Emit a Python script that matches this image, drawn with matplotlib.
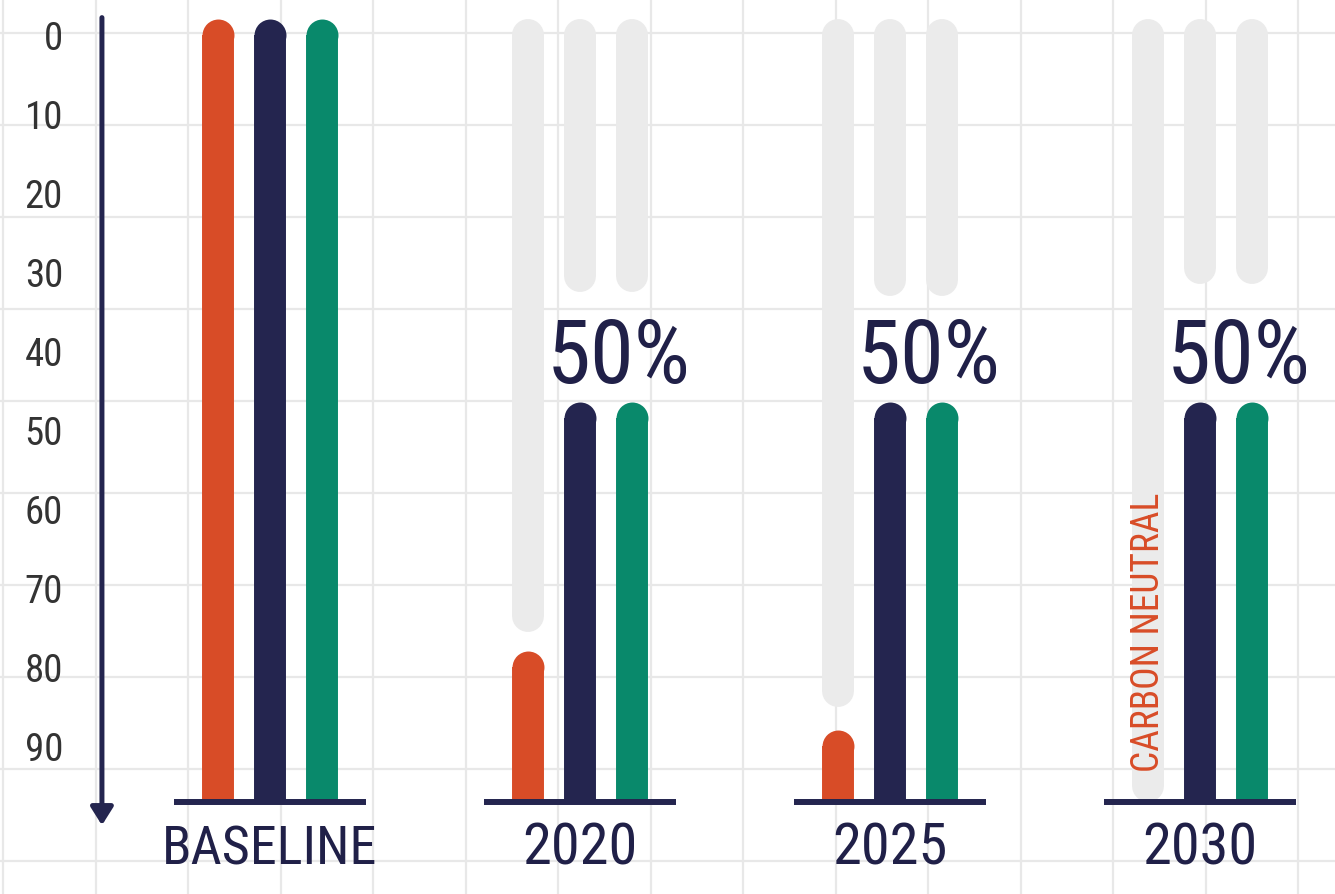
import numpy as np
import matplotlib
matplotlib.use("Agg")
import matplotlib.pyplot as plt

# chart values (percent reduction, 0 = top of the scale)
groups = ["BASELINE", "2020", "2025", "2030"]
orange_vals = [0, 80, 90, np.nan]        # nan -> nothing left (carbon neutral)
navy_vals = [0, 48.5, 48.5, 48.5]
green_vals = [0, 48.5, 48.5, 48.5]
ghost_orange = [np.nan, 73.5, 83, 95]    # faded "removed" part of the bar
ghost_navy = [np.nan, 30.5, 31, 29.5]
ghost_green = [np.nan, 30.5, 31, 29.5]
pct_labels = ["", "50%", "50%", "50%"]
note_labels = ["", "", "", "CARBON NEUTRAL"]
yticks = list(range(0, 100, 10))
base_level = 97

# colours
orange = "#d84c27"
navy = "#24254f"
green = "#09896b"
ghost = "#ebebeb"
text_navy = "#202048"

plt.rcParams['font.family'] = ['Roboto Condensed', 'DejaVu Sans']
plt.rcParams['font.stretch'] = 'condensed'

fig = plt.figure(figsize=(13.35, 8.94), dpi=100)
fig.patch.set_facecolor("white")

# background grid (pixel space)
bg = fig.add_axes([0, 0, 1, 1], zorder=0)
bg.set_xlim(0, 1335)
bg.set_ylim(894, 0)
bg.set_xticks(np.arange(3, 1335, 92.5))
bg.set_yticks(np.arange(33, 894, 92))
bg.grid(True, color="#e8e8e8", linewidth=1.6)
bg.tick_params(length=0, labelbottom=False, labelleft=False)
for s in bg.spines.values():
    s.set_visible(False)

# main chart axes
left = 70 / 1335
ax = fig.add_axes([left, 0, 1 - left, 1], zorder=1)
ax.patch.set_alpha(0)
ax.set_xlim(-0.645, 3.435)
ax.set_ylim(108.7, -4.43)
for s in ax.spines.values():
    s.set_visible(False)
ax.set_xticks([])
ax.set_yticks(yticks)
ax.tick_params(axis='y', length=0, pad=5, labelsize=28, labelcolor="#333333")

bar_lw = 23
off = 0.168


def solid_bar(x, top, color):
    if np.isnan(top):
        return
    ax.vlines(x, top, base_level, colors=color, linewidth=bar_lw, capstyle='butt', zorder=3)
    ax.scatter([x], [top], s=bar_lw ** 2, color=color, linewidths=0, zorder=3)


def ghost_bar(x, end):
    if np.isnan(end):
        return
    ax.plot([x, x], [0, end], color=ghost, lw=bar_lw, solid_capstyle='round', zorder=2)


for i in range(len(groups)):
    ghost_bar(i - off, ghost_orange[i])
    ghost_bar(i, ghost_navy[i])
    ghost_bar(i + off, ghost_green[i])
    solid_bar(i - off, orange_vals[i], orange)
    solid_bar(i, navy_vals[i], navy)
    solid_bar(i + off, green_vals[i], green)

    # base line under each group
    ax.plot([i - 0.31, i + 0.31], [base_level, base_level], color=navy, lw=4.3,
            solid_capstyle='butt', zorder=4)
    ax.text(i, 105, groups[i], ha='center', va='baseline', fontsize=39 if i == 0 else 42,
            color=text_navy, zorder=5)
    if pct_labels[i]:
        ax.text(i + 0.125, 44, pct_labels[i], ha='center', va='baseline', fontsize=64,
                color=text_navy, zorder=5)
    if note_labels[i]:
        ax.text(i - off, 93.3, note_labels[i], rotation=90, ha='center', va='bottom',
                fontsize=27, color=orange, zorder=5)

# downward arrow on the left
ax.annotate('', xy=(-0.542, 100), xytext=(-0.542, -2.2),
            arrowprops=dict(arrowstyle='-|>,head_width=0.68,head_length=1.08',
                            lw=3.6, color=navy, mutation_scale=10,
                            shrinkA=0, shrinkB=0),
            zorder=4)

fig.savefig("out.png", dpi=100)
